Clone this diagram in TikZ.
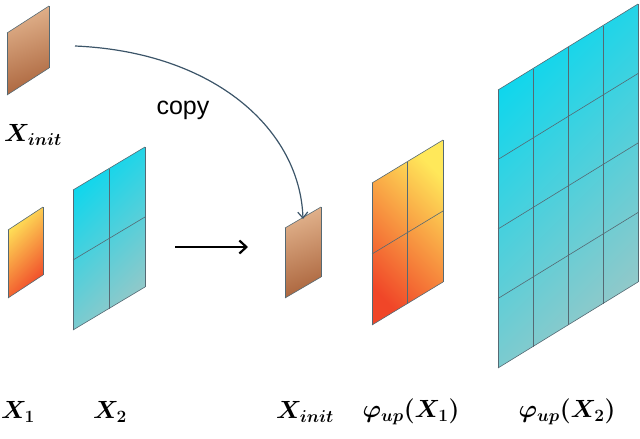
\documentclass[tikz,border=0pt]{standalone}
\usepackage{bm}
\usepackage{fontspec}
\newfontfamily\arialf{Liberation Sans}
\usetikzlibrary{arrows.meta}
\definecolor{edgec}{RGB}{85,105,115}
\definecolor{cyanA}{RGB}{10,215,238}
\definecolor{cyanB}{RGB}{150,200,200}
\definecolor{yelA}{RGB}{255,232,90}
\definecolor{redA}{RGB}{240,70,40}
\definecolor{brA}{RGB}{225,178,140}
\definecolor{brB}{RGB}{172,102,62}
\definecolor{arrc}{RGB}{60,85,105}
\newcommand\plane[9]{%
  \shade[top color=#7,bottom color=#8,shading angle=#9] (#1,#2)--(#1,#2-#4)--(#1+#3,#2-#4-#5)--(#1+#3,#2-#5)--cycle;
  \foreach \i in {0,...,#6}{%
    \draw[edgec,line width=0.6pt] (#1+\i*#3/#6,#2-\i*#5/#6)--(#1+\i*#3/#6,#2-#4-\i*#5/#6);
    \draw[edgec,line width=0.6pt] (#1,#2-\i*#4/#6)--(#1+#3,#2-\i*#4/#6-#5);}%
}
\tikzset{lab/.style={font=\fontsize{25}{28}\selectfont,inner sep=0pt}}
\begin{document}
\begin{tikzpicture}[x=1pt,y=-1pt]
\useasboundingbox (0,0) rectangle (640,439);
\plane{7}{95}{42}{62}{27}{1}{brA}{brB}{20}
\plane{8}{298}{35}{68}{23}{1}{yelA}{redA}{45}
\plane{73}{330}{72}{140}{43}{2}{cyanA}{cyanB}{45}
\plane{285}{298}{36}{70}{21}{1}{brA}{brB}{20}
\plane{372}{325}{71}{142}{43}{2}{yelA}{redA}{-45}
\plane{498}{368}{140}{278}{86}{4}{cyanA}{cyanB}{45}
\coordinate (xt) at (75,46);
\coordinate (xm) at (303,219);
\coordinate (a1) at (175,247);
\coordinate (a2) at (248,247);
\draw[arrc,line width=1.2pt,-{Straight Barb[length=6pt,width=10pt]}] (xt) .. controls (215,52) and (300,130) .. (xm);
\draw[line width=2.2pt,-{Straight Barb[length=7pt,width=13pt]}] (a1) -- (a2);
\node[font=\arialf\fontsize{25}{28}\selectfont] (copy) at (183,110) {copy};
\node[lab] (l0) at (33,135) {$\bm{X}_{\bm{init}}$};
\node[lab] (l1) at (18,412) {$\bm{X}_{\bm{1}}$};
\node[lab] (l2) at (110,412) {$\bm{X}_{\bm{2}}$};
\node[lab] (l3) at (305,412) {$\bm{X}_{\bm{init}}$};
\node[lab] (l4) at (411,412) {$\bm{\varphi}_{\bm{up}}\bm{(X}_{\bm{1}}\bm{)}$};
\node[lab] (l5) at (567,412) {$\bm{\varphi}_{\bm{up}}\bm{(X}_{\bm{2}}\bm{)}$};
\end{tikzpicture}
\end{document}
